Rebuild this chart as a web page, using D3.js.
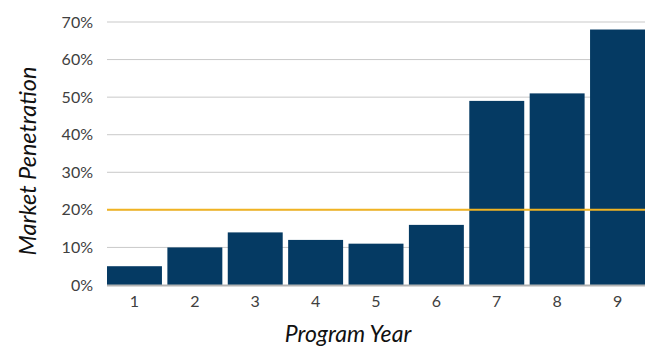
<!DOCTYPE html>
<html>
<head>
<meta charset="utf-8">
<script src="https://cdn.jsdelivr.net/npm/d3@7"></script>
<style>
  html, body { margin: 0; padding: 0; background: #fff; }
  svg { display: block; }
</style>
</head>
<body>
<svg id="chart" width="645" height="348"></svg>
<script>
// Market penetration by program year
const years = ["1", "2", "3", "4", "5", "6", "7", "8", "9"];
const penetration = [5, 10, 14, 12, 11, 16, 49, 51, 68];
const yTicks = [0, 10, 20, 30, 40, 50, 60, 70];
const targetLevel = [20];

const W = 645, H = 348;
const margin = { left: 107, right: 0, top: 22, bottom: 63 };

const svg = d3.select("#chart");
const fontFamily = "'Lato', 'Open Sans', sans-serif";

const x = d3.scaleBand()
  .domain(years)
  .range([margin.left, W - margin.right])
  .paddingInner(0.09)
  .paddingOuter(0);

const y = d3.scaleLinear()
  .domain([0, 70])
  .range([H - margin.bottom, margin.top]);

// horizontal gridlines
svg.append("g")
  .selectAll("line")
  .data(yTicks.filter(d => d > 0))
  .join("line")
  .attr("x1", margin.left)
  .attr("x2", W - margin.right)
  .attr("y1", d => y(d))
  .attr("y2", d => y(d))
  .attr("stroke", "#c9c9c9")
  .attr("stroke-width", 1);

// y axis labels
const yAxis = d3.axisLeft(y)
  .tickValues(yTicks)
  .tickFormat(d => d + "%")
  .tickSize(0)
  .tickPadding(14);
const gy = svg.append("g")
  .attr("transform", `translate(${margin.left},0)`)
  .call(yAxis);
gy.select(".domain").remove();
gy.selectAll("text")
  .attr("font-family", fontFamily)
  .attr("font-size", 16)
  .attr("fill", "#404040");

// bars
svg.append("g")
  .selectAll("rect")
  .data(years.map((yr, i) => ({ yr, v: penetration[i] })))
  .join("rect")
  .attr("x", d => x(d.yr))
  .attr("width", x.bandwidth())
  .attr("y", d => y(d.v))
  .attr("height", d => y(0) - y(d.v))
  .attr("fill", "#053a63");

// baseline
svg.append("line")
  .attr("x1", margin.left)
  .attr("x2", W - margin.right)
  .attr("y1", y(0) + 0.5)
  .attr("y2", y(0) + 0.5)
  .attr("stroke", "#b3b3b3")
  .attr("stroke-width", 2);

// 20% target line
svg.append("g")
  .selectAll("line")
  .data(targetLevel)
  .join("line")
  .attr("x1", margin.left)
  .attr("x2", W - margin.right)
  .attr("y1", d => y(d))
  .attr("y2", d => y(d))
  .attr("stroke", "#f0b323")
  .attr("stroke-width", 2);

// x axis labels
const xAxis = d3.axisBottom(x).tickSize(0).tickPadding(11);
const gx = svg.append("g")
  .attr("transform", `translate(0,${y(0)})`)
  .call(xAxis);
gx.select(".domain").remove();
gx.selectAll("text")
  .attr("font-family", fontFamily)
  .attr("font-size", 16)
  .attr("fill", "#404040");

// axis titles
svg.append("text")
  .attr("x", 348)
  .attr("y", 342)
  .attr("text-anchor", "middle")
  .attr("font-family", fontFamily)
  .attr("font-style", "italic")
  .attr("font-size", 23)
  .attr("fill", "#111")
  .text("Program Year");

svg.append("text")
  .attr("transform", "translate(36,161) rotate(-90)")
  .attr("text-anchor", "middle")
  .attr("font-family", fontFamily)
  .attr("font-style", "italic")
  .attr("font-size", 23.5)
  .attr("fill", "#111")
  .text("Market Penetration");
</script>
</body>
</html>
